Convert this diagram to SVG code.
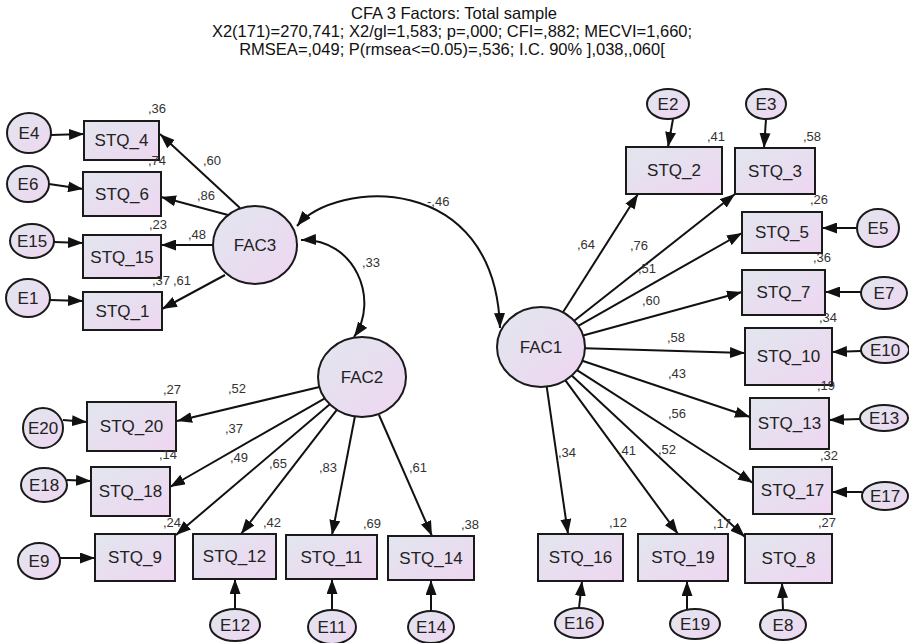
<svg xmlns="http://www.w3.org/2000/svg" width="909" height="643" viewBox="0 0 909 643">
<defs>
<linearGradient id="g" x1="0" y1="0" x2="1" y2="1">
<stop offset="0" stop-color="#e1e6ee"/>
<stop offset="1" stop-color="#efd6f1"/>
</linearGradient>
<marker id="ah" viewBox="0 0 15 11" refX="15" refY="5.5" markerWidth="15" markerHeight="11" markerUnits="userSpaceOnUse" orient="auto-start-reverse">
<path d="M0,0 L15,5.5 L0,11 z" fill="#111"/>
</marker>
<style>
.n rect,.n ellipse{fill:url(#g);stroke:#1a1a1a;stroke-width:2}
.n text{font-family:"Liberation Sans",Arial,sans-serif;font-size:17px;fill:#222;text-anchor:middle}
.c line,.c path{stroke:#111;stroke-width:2;fill:none;marker-end:url(#ah)}
.c path.bi{marker-start:url(#ah)}
.v text{font-family:"Liberation Sans",Arial,sans-serif;font-size:13px;fill:#333}
.t{font-family:"Liberation Sans",Arial,sans-serif;font-size:16.5px;fill:#111;text-anchor:middle}
</style>
</defs>
<rect width="909" height="643" fill="#fff"/>
<g id="title">
<text class="t" x="454" y="19">CFA 3 Factors: Total sample</text>
<text class="t" x="452" y="37">X2(171)=270,741; X2/gl=1,583; p=,000; CFI=,882; MECVI=1,660;</text>
<text class="t" x="452" y="55">RMSEA=,049; P(rmsea&lt;=0.05)=,536; I.C. 90% ],038,,060[</text>
</g>
<g class="c" id="connectors">
<path class="bi" d="M297,226 C335,180 495,170 500,328"/>
<path class="bi" d="M301,240 C355,238 380,300 354,337"/>
<line x1="240" y1="208" x2="160" y2="134"/>
<line x1="228" y1="215" x2="161" y2="197"/>
<line x1="213" y1="245" x2="161" y2="245"/>
<line x1="225" y1="275" x2="162" y2="309"/>
<line x1="319.4" y1="387" x2="177" y2="421"/>
<line x1="324.8" y1="398.3" x2="170" y2="487"/>
<line x1="329.8" y1="404.3" x2="176" y2="535"/>
<line x1="336.8" y1="409.8" x2="241" y2="534"/>
<line x1="355" y1="416" x2="332" y2="535"/>
<line x1="379" y1="415" x2="432" y2="536"/>
<line x1="563" y1="312.3" x2="638" y2="194"/>
<line x1="574.2" y1="320.8" x2="735" y2="194"/>
<line x1="578.3" y1="325.8" x2="742" y2="233"/>
<line x1="583.1" y1="335.5" x2="742" y2="292"/>
<line x1="585" y1="348.3" x2="745" y2="353"/>
<line x1="582.3" y1="360.8" x2="750" y2="417"/>
<line x1="577" y1="370.1" x2="753" y2="483"/>
<line x1="571.7" y1="375.6" x2="745" y2="537"/>
<line x1="565.4" y1="380.3" x2="678" y2="534"/>
<line x1="546.7" y1="386.7" x2="568" y2="534"/>
<line x1="51" y1="135" x2="84" y2="134"/>
<line x1="49" y1="184" x2="83" y2="189"/>
<line x1="54" y1="242" x2="83" y2="243"/>
<line x1="50" y1="300" x2="83" y2="301"/>
<line x1="63" y1="420" x2="87" y2="422"/>
<line x1="67" y1="480" x2="91" y2="481"/>
<line x1="60" y1="558" x2="95" y2="558"/>
<line x1="235" y1="609" x2="235" y2="579"/>
<line x1="332" y1="610" x2="332" y2="579"/>
<line x1="431" y1="611" x2="431" y2="580"/>
<line x1="579" y1="608" x2="582" y2="581"/>
<line x1="687" y1="609" x2="687" y2="581"/>
<line x1="783" y1="610" x2="782" y2="583"/>
<line x1="673" y1="119" x2="668" y2="147"/>
<line x1="766" y1="119" x2="764" y2="148"/>
<line x1="857" y1="228" x2="822" y2="228"/>
<line x1="861" y1="292" x2="825" y2="292"/>
<line x1="861" y1="351" x2="832" y2="352"/>
<line x1="860" y1="419" x2="829" y2="420"/>
<line x1="862" y1="492" x2="832" y2="492"/>
</g>
<g class="n" id="FAC3"><ellipse cx="255" cy="245" rx="42" ry="39"/><text x="255" y="251">FAC3</text></g>
<g class="n" id="FAC2"><ellipse cx="362" cy="377" rx="44" ry="40"/><text x="362" y="383">FAC2</text></g>
<g class="n" id="FAC1"><ellipse cx="541" cy="347" rx="44" ry="40"/><text x="541" y="353">FAC1</text></g>
<g class="n" id="STQ_4"><rect x="84" y="121" width="75" height="39"/><text x="121.5" y="146">STQ_4</text></g>
<g class="n" id="STQ_6"><rect x="83" y="172" width="78" height="44"/><text x="122" y="200">STQ_6</text></g>
<g class="n" id="STQ_15"><rect x="83" y="235" width="78" height="43"/><text x="122" y="263">STQ_15</text></g>
<g class="n" id="STQ_1"><rect x="83" y="292" width="79" height="38"/><text x="122.5" y="317">STQ_1</text></g>
<g class="n" id="STQ_20"><rect x="87" y="402" width="89" height="49"/><text x="131.5" y="432">STQ_20</text></g>
<g class="n" id="STQ_18"><rect x="91" y="467" width="79" height="49"/><text x="130.5" y="497">STQ_18</text></g>
<g class="n" id="STQ_9"><rect x="95" y="534" width="80" height="47"/><text x="135" y="563">STQ_9</text></g>
<g class="n" id="STQ_12"><rect x="193" y="534" width="83" height="45"/><text x="234.5" y="562">STQ_12</text></g>
<g class="n" id="STQ_11"><rect x="286" y="535" width="91" height="44"/><text x="331.5" y="563">STQ_11</text></g>
<g class="n" id="STQ_14"><rect x="388" y="536" width="86" height="44"/><text x="431" y="564">STQ_14</text></g>
<g class="n" id="STQ_16"><rect x="538" y="534" width="85" height="47"/><text x="580.5" y="563">STQ_16</text></g>
<g class="n" id="STQ_19"><rect x="638" y="534" width="90" height="47"/><text x="683" y="563">STQ_19</text></g>
<g class="n" id="STQ_8"><rect x="745" y="534" width="87" height="49"/><text x="788.5" y="564">STQ_8</text></g>
<g class="n" id="STQ_2"><rect x="626" y="147" width="96" height="47"/><text x="674" y="176">STQ_2</text></g>
<g class="n" id="STQ_3"><rect x="735" y="148" width="80" height="46"/><text x="775" y="177">STQ_3</text></g>
<g class="n" id="STQ_5"><rect x="742" y="212" width="80" height="41"/><text x="782" y="238">STQ_5</text></g>
<g class="n" id="STQ_7"><rect x="742" y="270" width="83" height="45"/><text x="783.5" y="298">STQ_7</text></g>
<g class="n" id="STQ_10"><rect x="745" y="328" width="87" height="57"/><text x="788.5" y="362">STQ_10</text></g>
<g class="n" id="STQ_13"><rect x="750" y="398" width="79" height="51"/><text x="789.5" y="429">STQ_13</text></g>
<g class="n" id="STQ_17"><rect x="753" y="467" width="79" height="47"/><text x="792.5" y="496">STQ_17</text></g>
<g class="n" id="E4"><ellipse cx="29" cy="133" rx="22" ry="20"/><text x="29" y="139">E4</text></g>
<g class="n" id="E6"><ellipse cx="28" cy="184" rx="21" ry="18"/><text x="28" y="190">E6</text></g>
<g class="n" id="E15"><ellipse cx="32" cy="241" rx="22" ry="17"/><text x="32" y="247">E15</text></g>
<g class="n" id="E1"><ellipse cx="28" cy="298" rx="22" ry="19"/><text x="28" y="304">E1</text></g>
<g class="n" id="E20"><ellipse cx="43" cy="428" rx="20" ry="20"/><text x="43" y="434">E20</text></g>
<g class="n" id="E18"><ellipse cx="44" cy="485" rx="23" ry="17"/><text x="44" y="491">E18</text></g>
<g class="n" id="E9"><ellipse cx="39" cy="561" rx="21" ry="18"/><text x="39" y="567">E9</text></g>
<g class="n" id="E12"><ellipse cx="235" cy="625" rx="25" ry="16"/><text x="235" y="631">E12</text></g>
<g class="n" id="E11"><ellipse cx="332" cy="627" rx="24" ry="17"/><text x="332" y="633">E11</text></g>
<g class="n" id="E14"><ellipse cx="431" cy="627" rx="23" ry="16"/><text x="431" y="633">E14</text></g>
<g class="n" id="E16"><ellipse cx="579" cy="623" rx="24" ry="15"/><text x="579" y="629">E16</text></g>
<g class="n" id="E19"><ellipse cx="695" cy="624" rx="25" ry="15"/><text x="695" y="630">E19</text></g>
<g class="n" id="E8"><ellipse cx="783" cy="625" rx="23" ry="15"/><text x="783" y="631">E8</text></g>
<g class="n" id="E2"><ellipse cx="668" cy="104" rx="21" ry="15"/><text x="668" y="110">E2</text></g>
<g class="n" id="E3"><ellipse cx="766" cy="104" rx="20" ry="15"/><text x="766" y="110">E3</text></g>
<g class="n" id="E5"><ellipse cx="878" cy="228" rx="21" ry="19"/><text x="878" y="234">E5</text></g>
<g class="n" id="E7"><ellipse cx="884" cy="293" rx="23" ry="16"/><text x="884" y="299">E7</text></g>
<g class="n" id="E10"><ellipse cx="885" cy="350" rx="24" ry="13"/><text x="885" y="356">E10</text></g>
<g class="n" id="E13"><ellipse cx="884" cy="418" rx="24" ry="13"/><text x="884" y="424">E13</text></g>
<g class="n" id="E17"><ellipse cx="885" cy="496" rx="23" ry="14"/><text x="885" y="502">E17</text></g>
<g class="v" id="values">
<text x="427" y="206">-,46</text>
<text x="362" y="267">,33</text>
<text x="203" y="165">,60</text>
<text x="197" y="200">,86</text>
<text x="188" y="239">,48</text>
<text x="173" y="285">,61</text>
<text x="152" y="285">,37</text>
<text x="148" y="113">,36</text>
<text x="148" y="165">,74</text>
<text x="149" y="229">,23</text>
<text x="163" y="394">,27</text>
<text x="228" y="393">,52</text>
<text x="159" y="459">,14</text>
<text x="225" y="433">,37</text>
<text x="230" y="462">,49</text>
<text x="269" y="468">,65</text>
<text x="163" y="527">,24</text>
<text x="263" y="527">,42</text>
<text x="319" y="472">,83</text>
<text x="363" y="528">,69</text>
<text x="409" y="472">,61</text>
<text x="461" y="529">,38</text>
<text x="577" y="249">,64</text>
<text x="630" y="250">,76</text>
<text x="638" y="273">,51</text>
<text x="642" y="305">,60</text>
<text x="667" y="342">,58</text>
<text x="668" y="378">,43</text>
<text x="668" y="418">,56</text>
<text x="658" y="454">,52</text>
<text x="618" y="455">,41</text>
<text x="558" y="457">,34</text>
<text x="707" y="141">,41</text>
<text x="803" y="141">,58</text>
<text x="810" y="204">,26</text>
<text x="813" y="262">,36</text>
<text x="819" y="322">,34</text>
<text x="817" y="390">,19</text>
<text x="820" y="460">,32</text>
<text x="818" y="527">,27</text>
<text x="713" y="528">,17</text>
<text x="609" y="527">,12</text>
</g>
</svg>
